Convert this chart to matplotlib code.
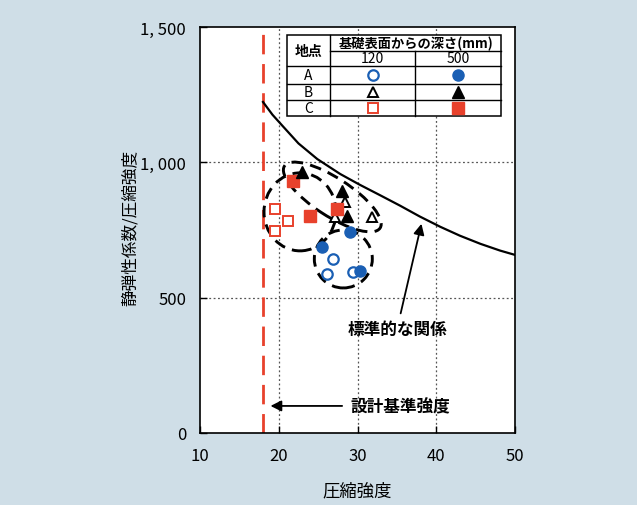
import matplotlib
matplotlib.use("Agg")
import matplotlib.pyplot as plt
from matplotlib.patches import Ellipse
from matplotlib.transforms import ScaledTranslation

plt.rcParams['font.family'] = ['Noto Sans CJK JP', 'DejaVu Sans']

# --- data ---
x_ticks = [10, 20, 30, 40, 50]
y_ticks = [0, 500, 1000, 1500]
y_tick_labels = ['0', '500', '1, 000', '1, 500']

design_strength = 18

# standard relationship curve
curve_x = [18.0, 19.2, 20.5, 22.5, 24.9, 27.8, 30.3, 32.9, 35.4, 37.9, 40.5, 43.0, 45.6, 48.1, 50.0]
curve_y = [1223, 1176, 1134, 1070, 1012, 957, 917, 878, 840, 800, 762, 729, 699, 674, 658]

a_120_x = [26.9, 26.1, 29.4]
a_120_y = [643, 587, 595]
a_500_x = [29.0, 25.5, 30.3]
a_500_y = [743, 687, 599]

b_120_x = [27.1, 28.4, 31.8]
b_120_y = [798, 853, 798]
b_500_x = [22.95, 28.0, 28.7]
b_500_y = [964, 894, 802]

c_120_x = [19.5, 21.2, 19.5]
c_120_y = [828, 783, 746]
c_500_x = [21.8, 24.0, 27.4]
c_500_y = [931, 802, 828]

# grouping ellipses: center (data), width/height (px), angle
groups = [
    ((22.7, 817), 72, 78, 0),
    ((26.8, 872), 114, 38, -33),
    ((28.2, 643), 58, 58, 0),
]

blue = '#1a5fb4'
red = '#e8412c'
bg = '#cfdee7'

fig = plt.figure(figsize=(6.37, 5.06), dpi=100, facecolor=bg)
ax = fig.add_axes([200 / 637, 1 - 434 / 506, 315 / 637, 406 / 506])
ax.set_facecolor('white')
ax.set_xlim(10, 50)
ax.set_ylim(0, 1500)

for gx in [20, 30, 40]:
    ax.axvline(gx, color='#555555', lw=0.9, ls=(0, (1.5, 2)), zorder=1)
for gy in [500, 1000]:
    ax.axhline(gy, color='#555555', lw=0.9, ls=(0, (1.5, 2)), zorder=1)

ax.axvline(design_strength, color=red, lw=2, ls=(0, (7, 3.5)), zorder=2)
ax.plot(curve_x, curve_y, color='black', lw=1.6, zorder=3)

ms = 7.5
ax.plot(a_120_x, a_120_y, 'o', ms=ms, mfc='white', mec=blue, mew=1.6, ls='none', zorder=5)
ax.plot(a_500_x, a_500_y, 'o', ms=ms + 0.5, color=blue, ls='none', zorder=5)
ax.plot(b_120_x, b_120_y, '^', ms=ms, mfc='white', mec='black', mew=1.4, ls='none', zorder=5)
ax.plot(b_500_x, b_500_y, '^', ms=ms + 0.5, color='black', ls='none', zorder=6)
ax.plot(c_120_x, c_120_y, 's', ms=ms, mfc='white', mec=red, mew=1.4, ls='none', zorder=5)
ax.plot(c_500_x, c_500_y, 's', ms=ms + 0.5, color=red, ls='none', zorder=5)

for (cx, cy), w, h, ang in groups:
    tr = fig.dpi_scale_trans + ScaledTranslation(cx, cy, ax.transData)
    ax.add_patch(Ellipse((0, 0), w / 100, h / 100, angle=ang, transform=tr,
                         fill=False, ec='black', lw=2.1, ls=(0, (4, 2.5)), zorder=4))

# annotations
ax.annotate('', xy=(38.2, 783), xytext=(35.4, 432),
            arrowprops=dict(arrowstyle='-|>', color='black', lw=1.3, mutation_scale=16))
ax.text(35.1, 384, '標準的な関係', ha='center', va='center', fontsize=12, fontweight='bold')
ax.annotate('', xy=(18.6, 100), xytext=(28.4, 100),
            arrowprops=dict(arrowstyle='-|>', color='black', lw=1.3, mutation_scale=16))
ax.text(29.05, 100, '設計基準強度', ha='left', va='center', fontsize=12, fontweight='bold')

# inset table (axes fraction)
L, R, T, B = 0.276, 0.956, 0.980, 0.781
c1, c2 = 0.413, 0.683
rows = [0.904, 0.860, 0.820]
ax.add_patch(plt.Rectangle((L, B), R - L, T - B, transform=ax.transAxes,
                           fill=True, fc='white', ec='black', lw=1.1, zorder=7))
kw = dict(transform=ax.transAxes, color='black', lw=1, zorder=8)
ax.plot([c1, c1], [B, T], **kw)
ax.plot([c2, c2], [B, 0.941], **kw)
ax.plot([c1, R], [0.941, 0.941], **kw)
for ry in rows:
    ax.plot([L, R], [ry, ry], **kw)

tk = dict(transform=ax.transAxes, ha='center', va='center', zorder=9)
ax.text((L + c1) / 2, (T + rows[0]) / 2, '地点', fontsize=10, fontweight='bold', **tk)
ax.text((c1 + R) / 2, (T + 0.941) / 2, '基礎表面からの深さ(mm)', fontsize=9.5, fontweight='bold', **tk)
ax.text((c1 + c2) / 2, (0.941 + rows[0]) / 2, '120', fontsize=10, **tk)
ax.text((c2 + R) / 2, (0.941 + rows[0]) / 2, '500', fontsize=10, **tk)
row_centers = [(rows[0] + rows[1]) / 2, (rows[1] + rows[2]) / 2, (rows[2] + B) / 2]
for lab, yc in zip(['A', 'B', 'C'], row_centers):
    ax.text((L + c1) / 2, yc, lab, fontsize=10, **tk)

mk = dict(transform=ax.transAxes, ls='none', zorder=9)
x120, x500 = (c1 + c2) / 2, (c2 + R) / 2
ax.plot(x120, row_centers[0], 'o', ms=7.5, mfc='white', mec=blue, mew=1.6, **mk)
ax.plot(x500, row_centers[0], 'o', ms=8, color=blue, **mk)
ax.plot(x120, row_centers[1], '^', ms=7.5, mfc='white', mec='black', mew=1.4, **mk)
ax.plot(x500, row_centers[1], '^', ms=8, color='black', **mk)
ax.plot(x120, row_centers[2], 's', ms=7.5, mfc='white', mec=red, mew=1.4, **mk)
ax.plot(x500, row_centers[2], 's', ms=8, color=red, **mk)

# axes styling
ax.set_xticks(x_ticks)
ax.set_yticks(y_ticks)
ax.set_yticklabels(y_tick_labels)
ax.tick_params(direction='in', length=5, width=1, labelsize=12, pad=10)
for s in ax.spines.values():
    s.set_linewidth(1.2)

fig.text(357 / 637, 1 - 491 / 506, '圧縮強度', ha='center', va='center', fontsize=12.5)
fig.text(130 / 637, 1 - 228 / 506, '静弾性係数/圧縮強度', ha='center', va='center',
         rotation=90, fontsize=12)

fig.savefig('out.png', dpi=100, facecolor=bg)
